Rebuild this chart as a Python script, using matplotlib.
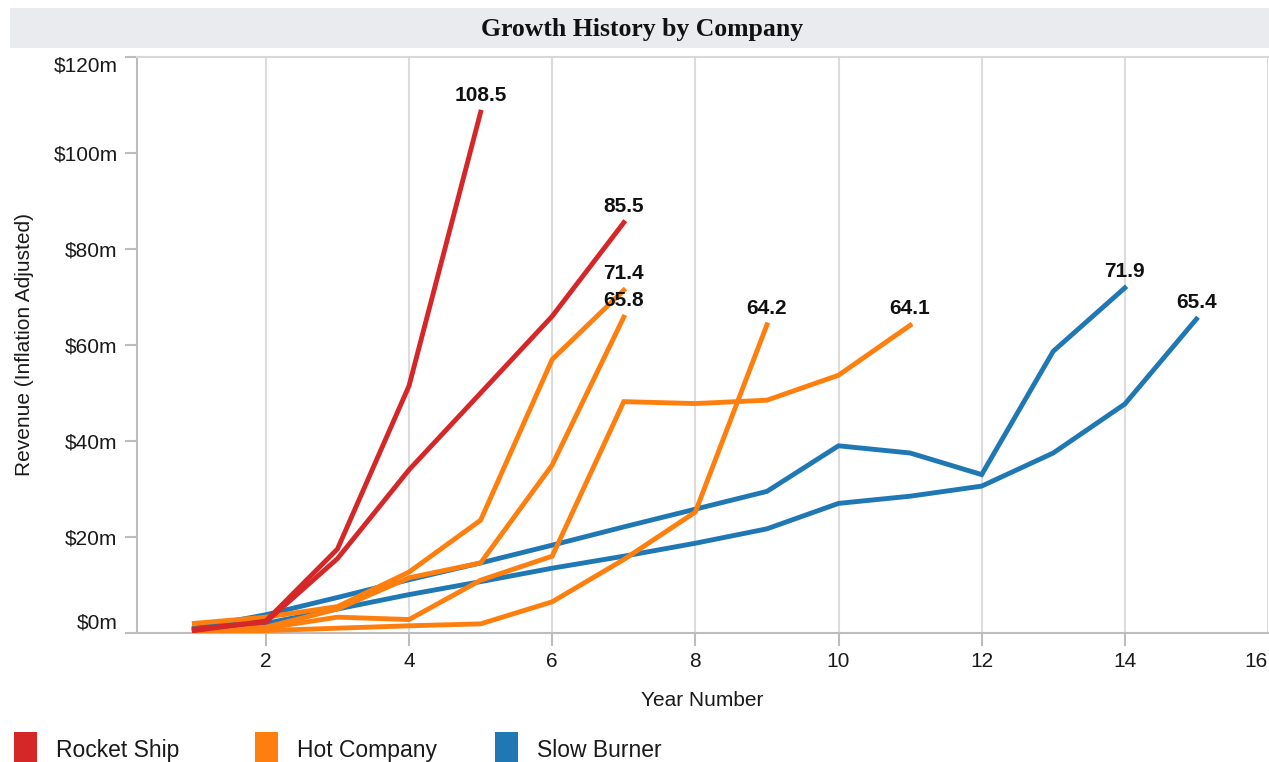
import matplotlib
matplotlib.use("Agg")
import matplotlib.pyplot as plt
from matplotlib.patches import Rectangle

plt.rcParams['font.family'] = ['Liberation Sans', 'DejaVu Sans']

# company groups and colours
groups = ["Rocket Ship", "Hot Company", "Slow Burner"]
colors = {"Rocket Ship": "#d62728", "Hot Company": "#ff7f0e", "Slow Burner": "#1f77b4"}

# revenue ($m, inflation adjusted) by year number, one list per company
rocket_a_years = [1, 2, 3, 4, 5]
rocket_a = [0.5, 2.5, 17.5, 51.5, 108.5]
rocket_b_years = [1, 2, 3, 4, 5, 6, 7]
rocket_b = [0.8, 2.3, 15.5, 34.0, 50.0, 66.0, 85.5]

hot_a_years = [1, 2, 3, 4, 5, 6, 7]
hot_a = [2.0, 3.3, 5.5, 12.7, 23.5, 57.0, 71.4]
hot_b_years = [1, 2, 3, 4, 5, 6, 7]
hot_b = [0.5, 1.2, 5.0, 11.5, 14.6, 35.0, 65.8]
hot_c_years = [1, 2, 3, 4, 5, 6, 7, 8, 9, 10, 11]
hot_c = [0.8, 1.0, 3.3, 2.8, 11.0, 16.0, 48.2, 47.8, 48.5, 53.7, 64.1]
hot_d_years = [1, 2, 3, 4, 5, 6, 7, 8, 9]
hot_d = [0.3, 0.5, 1.0, 1.5, 1.9, 6.5, 15.3, 25.2, 64.2]

slow_a_years = [1, 2, 3, 4, 5, 6, 7, 8, 9, 10, 11, 12, 13, 14]
slow_a = [1.0, 3.8, 7.4, 11.1, 14.6, 18.3, 22.1, 25.8, 29.5, 39.0, 37.5, 33.0, 58.7, 71.9]
slow_b_years = [1, 2, 3, 4, 5, 6, 7, 8, 9, 10, 11, 12, 13, 14, 15]
slow_b = [0.5, 2.0, 5.0, 8.0, 10.7, 13.5, 16.0, 18.7, 21.7, 27.0, 28.5, 30.6, 37.5, 47.7, 65.4]

# drawing order: blue under orange under red
series = [
    ("Slow Burner", slow_a_years, slow_a),
    ("Slow Burner", slow_b_years, slow_b),
    ("Hot Company", hot_a_years, hot_a),
    ("Hot Company", hot_b_years, hot_b),
    ("Hot Company", hot_c_years, hot_c),
    ("Hot Company", hot_d_years, hot_d),
    ("Rocket Ship", rocket_a_years, rocket_a),
    ("Rocket Ship", rocket_b_years, rocket_b),
]

y_ticks = [0, 20, 40, 60, 80, 100, 120]
x_ticks = [2, 4, 6, 8, 10, 12, 14, 16]

fig = plt.figure(figsize=(12.69, 7.62), dpi=100)
ax = fig.add_axes([0.108, 0.1693, 0.8912, 0.7559])

grid_col = "#dcdcdc"
axis_col = "#bdbdbd"
text_col = "#1a1a1a"

for name, xs, ys in series:
    ax.plot(xs, ys, color=colors[name], lw=3.5, solid_joinstyle="miter", zorder=3)
    ax.annotate(f"{ys[-1]:.1f}", (xs[-1], ys[-1]), xytext=(0, 5), textcoords="offset points",
                ha="center", va="bottom", fontsize=15, fontweight="bold", color="#111111", zorder=5)

ax.set_xlim(0.2, 16)
ax.set_ylim(0, 120)
ax.set_xticks(x_ticks)
ax.set_xticklabels([str(t) for t in x_ticks])
ax.set_yticks(y_ticks)
ax.set_yticklabels([f"${t}m" for t in y_ticks])
ax.xaxis.grid(True, color=grid_col, lw=1.5)
ax.yaxis.grid(False)
ax.set_axisbelow(True)

ax.tick_params(axis="both", colors=axis_col, labelcolor=text_col, labelsize=15,
               length=9, width=1.5, pad=5)
ylabels = ax.get_yticklabels()
ylabels[0].set_va("bottom")
ylabels[-1].set_va("top")
ax.get_xticklabels()[-1].set_ha("right")
ax.xaxis.get_major_ticks()[-1].tick1line.set_visible(False)

for side in ["left", "bottom", "top"]:
    ax.spines[side].set_color(axis_col)
    ax.spines[side].set_linewidth(1.5)
ax.spines["top"].set_color("#d8d8d8")
ax.spines["right"].set_visible(False)

ax.set_xlabel("Year Number", fontsize=15, color=text_col)
ax.xaxis.set_label_coords(0.5, -0.1)
ax.set_ylabel("Revenue (Inflation Adjusted)", fontsize=15, color=text_col)
ax.yaxis.set_label_coords(-0.091, 0.5)

# title band
fig.patches.append(Rectangle((0.008, 0.937), 0.992, 0.0525, transform=fig.transFigure,
                             facecolor="#eaebee", edgecolor="none", zorder=0))
fig.text(0.506, 0.961, "Growth History by Company", ha="center", va="center",
         fontsize=18.5, fontweight="bold", family=["Liberation Serif", "DejaVu Serif"], color="#111111")

# legend along the bottom edge
legend_x = [0.011, 0.201, 0.390]
for gx, name in zip(legend_x, groups):
    fig.patches.append(Rectangle((gx, -0.01), 0.018, 0.049, transform=fig.transFigure,
                                 facecolor=colors[name], edgecolor="none"))
    fig.text(gx + 0.033, 0.0145, name, ha="left", va="center", fontsize=16.5, color=text_col)

fig.savefig("out.png", dpi=100)
